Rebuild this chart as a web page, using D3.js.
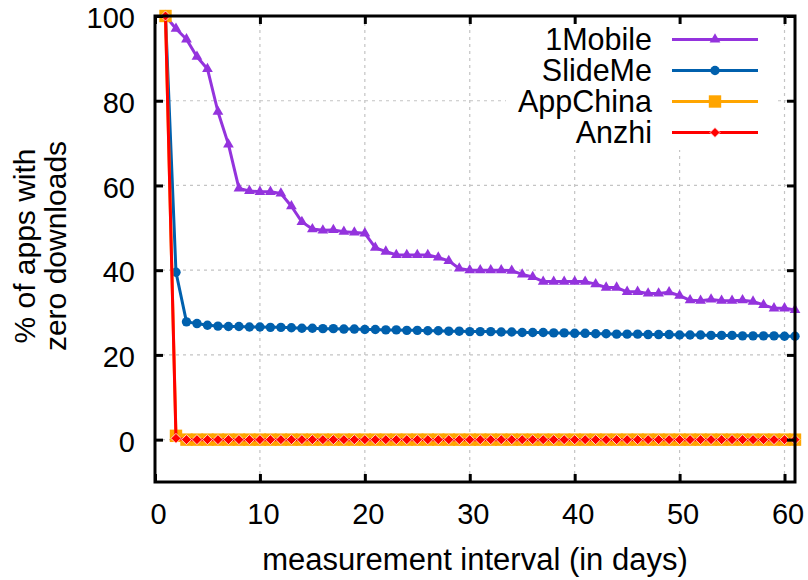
<!DOCTYPE html>
<html>
<head>
<meta charset="utf-8">
<script src="https://cdn.jsdelivr.net/npm/d3@7/dist/d3.min.js"></script>
<style>
  html, body { margin: 0; padding: 0; background: #fff; }
  svg { display: block; font-family: "Liberation Sans", Arial, Helvetica, sans-serif; }
</style>
</head>
<body>
<svg id="chart" width="808" height="580"></svg>
<script>
// ---- data ----
const days = d3.range(1, 62); // measurement days 1..61
const seriesNames = ["1Mobile", "SlideMe", "AppChina", "Anzhi"];
const seriesColors = ["#9433dd", "#0060ad", "#ffa500", "#ff0000"];
const mobile1 = [100, 97.0, 94.5, 90.4, 87.5, 77.4, 69.7, 59.3, 58.7, 58.5,
  58.5, 58.1, 55.1, 51.4, 49.7, 49.4, 49.5, 49.1, 48.9, 48.7,
  45.3, 44.4, 43.6, 43.6, 43.6, 43.6, 43.0, 42.2, 40.4, 40.0,
  40.0, 40.0, 40.0, 39.9, 39.0, 38.4, 37.3, 37.3, 37.3, 37.3,
  37.3, 36.7, 35.9, 35.9, 34.9, 34.9, 34.5, 34.5, 34.8, 34.0,
  32.9, 32.8, 33.1, 32.8, 32.8, 32.9, 32.6, 31.8, 31.0, 31.0,
  30.6];
const slideMe = [100, 39.5, 27.8, 27.4, 27.0, 26.8, 26.7, 26.7, 26.6, 26.6,
  26.5, 26.5, 26.4, 26.3, 26.3, 26.2, 26.2, 26.1, 26.1, 26.0,
  26.0, 25.9, 25.9, 25.8, 25.8, 25.7, 25.7, 25.6, 25.6, 25.5,
  25.5, 25.5, 25.4, 25.4, 25.3, 25.3, 25.3, 25.2, 25.2, 25.1,
  25.1, 25.0, 25.0, 24.9, 24.9, 24.9, 24.8, 24.8, 24.8, 24.7,
  24.7, 24.7, 24.6, 24.6, 24.6, 24.5, 24.5, 24.5, 24.5, 24.4,
  24.4];
const appChina = [100, 0.9, 0, 0, 0, 0, 0, 0, 0, 0,
  0, 0, 0, 0, 0, 0, 0, 0, 0, 0,
  0, 0, 0, 0, 0, 0, 0, 0, 0, 0,
  0, 0, 0, 0, 0, 0, 0, 0, 0, 0,
  0, 0, 0, 0, 0, 0, 0, 0, 0, 0,
  0, 0, 0, 0, 0, 0, 0, 0, 0, 0,
  0];
const anzhi = [100, 0.3, 0, 0, 0, 0, 0, 0, 0, 0,
  0, 0, 0, 0, 0, 0, 0, 0, 0, 0,
  0, 0, 0, 0, 0, 0, 0, 0, 0, 0,
  0, 0, 0, 0, 0, 0, 0, 0, 0, 0,
  0, 0, 0, 0, 0, 0, 0, 0, 0, 0,
  0, 0, 0, 0, 0, 0, 0, 0, 0, 0,
  0];
const xTicks = [0, 10, 20, 30, 40, 50, 60];
const yTicks = [0, 20, 40, 60, 80, 100];
const xTitle = "measurement interval (in days)";
const yTitle = ["% of apps with", "zero downloads"];

// ---- layout ----
const L = 155, R = 795, T = 16, B = 482;
const svg = d3.select("#chart");
const x = d3.scaleLinear().domain([0, 61]).range([L, R]);
const y = d3.scaleLinear().domain([-10, 100]).range([B, T]);

// grid
const grid = svg.append("g").attr("stroke", "#c4c4c4").attr("stroke-width", 1.2)
  .attr("stroke-dasharray", "3,4");
grid.selectAll("line.gx").data(xTicks.filter(v => v > 0)).join("line")
  .attr("x1", d => x(d)).attr("x2", d => x(d)).attr("y1", T).attr("y2", B);
grid.selectAll("line.gy").data(yTicks.filter(v => v < 100)).join("line")
  .attr("y1", d => y(d)).attr("y2", d => y(d)).attr("x1", L).attr("x2", R);

// opaque legend box
svg.append("rect").attr("x", 506).attr("y", 20).attr("width", 270).attr("height", 130).attr("fill", "#fff");

// markers
function marker(sel, kind, color) {
  if (kind === 0) {
    sel.append("path").attr("d", d3.symbol(d3.symbolTriangle, 50)()).attr("fill", color);
  } else if (kind === 1) {
    sel.append("circle").attr("r", 4.7).attr("fill", color);
  } else if (kind === 2) {
    sel.append("rect").attr("x", -6.2).attr("y", -6.2).attr("width", 12.4).attr("height", 12.4).attr("fill", color);
  } else {
    sel.append("path").attr("d", "M0,-5L5,0L0,5L-5,0Z").attr("fill", color)
      .attr("stroke", "#fff").attr("stroke-width", 1).attr("stroke-opacity", 0.75);
  }
}

const allSeries = [mobile1, slideMe, appChina, anzhi];
const line = d3.line().x(d => x(d[0])).y(d => y(d[1]));
allSeries.forEach((vals, i) => {
  const pts = days.map((d, j) => [d, vals[j]]);
  const g = svg.append("g");
  g.append("path").datum(pts).attr("d", line).attr("fill", "none")
    .attr("stroke", seriesColors[i]).attr("stroke-width", 3).attr("stroke-linejoin", "round");
  g.selectAll("g.pt").data(pts).join("g")
    .attr("transform", d => `translate(${x(d[0])},${y(d[1])})`)
    .each(function () { marker(d3.select(this), i, seriesColors[i]); });
});

// axes
const fs = 29;
const axL = svg.append("g").attr("transform", `translate(${L},0)`)
  .call(d3.axisLeft(y).tickValues(yTicks).tickSizeInner(-8).tickSizeOuter(0).tickPadding(20));
const axB = svg.append("g").attr("transform", `translate(0,${B})`)
  .call(d3.axisBottom(x).tickValues(xTicks).tickSizeInner(-8).tickSizeOuter(0).tickPadding(21));
const axT = svg.append("g").attr("transform", `translate(0,${T})`)
  .call(d3.axisTop(x).tickValues(xTicks).tickSizeInner(-8).tickSizeOuter(0).tickFormat(""));
const axR = svg.append("g").attr("transform", `translate(${R},0)`)
  .call(d3.axisRight(y).tickValues(yTicks).tickSizeInner(-8).tickSizeOuter(0).tickFormat(""));
[axL, axB, axT, axR].forEach(a => {
  a.select(".domain").remove();
  a.selectAll(".tick line").attr("stroke", "#000").attr("stroke-width", 3);
  a.selectAll(".tick text").attr("font-size", fs).attr("font-family", null).attr("fill", "#000");
});
axB.selectAll(".tick text").attr("dx", 3);
axL.selectAll(".tick text").attr("dy", "0.4em");

// border
svg.append("rect").attr("x", L).attr("y", T).attr("width", R - L).attr("height", B - T)
  .attr("fill", "none").attr("stroke", "#000").attr("stroke-width", 3);

// titles
svg.append("text").attr("x", 475).attr("y", 570).attr("text-anchor", "middle")
  .attr("font-size", 31).text(xTitle);
const yt = svg.append("text").attr("transform", "translate(0,246) rotate(-90)")
  .attr("text-anchor", "middle").attr("font-size", 30);
yt.append("tspan").attr("x", 0).attr("y", 35).text(yTitle[0]);
yt.append("tspan").attr("x", 0).attr("y", 66).text(yTitle[1]);

// legend
seriesNames.forEach((name, i) => {
  const cy = 39.5 + i * 31;
  const g = svg.append("g");
  g.append("text").attr("x", 652).attr("y", cy + 10.5).attr("text-anchor", "end")
    .attr("font-size", 30.5).text(name);
  g.append("line").attr("x1", 672).attr("x2", 758).attr("y1", cy).attr("y2", cy)
    .attr("stroke", seriesColors[i]).attr("stroke-width", 3);
  const m = g.append("g").attr("transform", `translate(715,${cy})`);
  marker(m, i, seriesColors[i]);
});
</script>
</body>
</html>
